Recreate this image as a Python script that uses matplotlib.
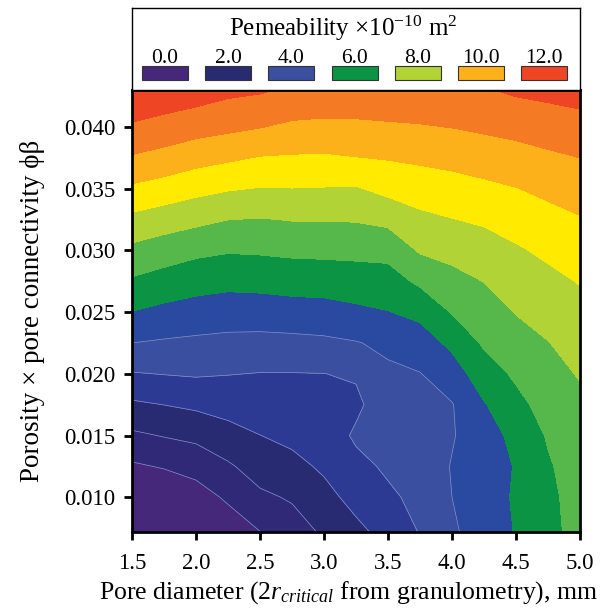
import numpy as np
import matplotlib
matplotlib.use("Agg")
import matplotlib.pyplot as plt
from matplotlib.colors import ListedColormap, BoundaryNorm
from matplotlib.patches import Rectangle

plt.rcParams['font.family'] = ['Liberation Serif', 'DejaVu Serif']
plt.rcParams['mathtext.fontset'] = 'custom'
plt.rcParams['mathtext.rm'] = 'Liberation Serif'
plt.rcParams['mathtext.it'] = 'Liberation Serif:italic'

# ---- data ----
pore_diameter = [1.5, 1.75, 2.0, 2.25, 2.5, 2.75, 3.0, 3.25, 3.5, 3.75, 4.0, 4.25, 4.5, 4.75, 5.0]
porosity_conn = [0.007, 0.010, 0.0125, 0.015, 0.0175, 0.020, 0.0225, 0.025,
                 0.0275, 0.030, 0.0325, 0.035, 0.0375, 0.040, 0.0435]
permeability = [
    [-0.8, -0.9, -0.4, 0.33, 0.93, 1.53, 2.10, 2.75, 3.26, 4.03, 4.85, 5.45, 6.05, 6.75, 7.30],
    [0.05, 0.12, 0.54, 1.16, 1.82, 2.10, 2.73, 3.28, 3.83, 4.25, 5.00, 5.60, 6.10, 6.80, 7.35],
    [0.86, 1.08, 1.37, 1.87, 2.43, 2.74, 3.14, 3.73, 4.15, 4.43, 5.05, 5.60, 6.05, 6.90, 7.45],
    [1.83, 2.05, 2.23, 2.65, 2.99, 3.22, 3.42, 4.15, 4.37, 4.61, 4.93, 5.55, 6.28, 7.09, 7.60],
    [2.84, 3.01, 3.19, 3.37, 3.48, 3.59, 3.71, 3.80, 4.60, 4.79, 4.95, 5.93, 6.72, 7.38, 7.80],
    [3.94, 4.03, 4.10, 4.03, 3.97, 3.97, 3.99, 4.10, 4.83, 4.97, 5.53, 6.53, 7.16, 7.68, 8.07],
    [5.00, 4.89, 4.81, 4.74, 4.71, 4.74, 4.81, 4.95, 5.20, 5.53, 6.22, 7.13, 7.60, 7.97, 8.39],
    [5.97, 5.75, 5.59, 5.49, 5.50, 5.58, 5.63, 5.80, 5.97, 6.24, 7.06, 7.58, 8.04, 8.36, 8.71],
    [6.87, 6.60, 6.38, 6.26, 6.31, 6.40, 6.43, 6.53, 6.59, 7.18, 7.67, 8.02, 8.46, 8.75, 9.05],
    [7.76, 7.49, 7.22, 7.08, 7.12, 7.20, 7.23, 7.25, 7.30, 8.10, 8.31, 8.58, 8.88, 9.19, 9.50],
    [8.75, 8.48, 8.25, 8.01, 7.95, 8.04, 8.04, 8.07, 8.25, 8.77, 8.97, 9.13, 9.40, 9.68, 9.93],
    [9.83, 9.58, 9.29, 9.08, 8.95, 8.98, 8.95, 8.92, 9.28, 9.46, 9.61, 9.78, 9.97, 10.22, 10.46],
    [10.90, 10.66, 10.36, 10.15, 9.94, 9.89, 9.86, 9.97, 10.06, 10.17, 10.29, 10.46, 10.62, 10.82, 11.00],
    [11.85, 11.62, 11.39, 11.22, 11.03, 10.82, 10.79, 10.81, 10.87, 10.93, 11.02, 11.16, 11.30, 11.48, 11.65],
    [13.20, 12.90, 12.70, 12.40, 12.30, 12.00, 11.80, 11.80, 11.85, 11.87, 11.90, 12.05, 12.30, 12.40, 12.50],
]
levels = list(range(0, 14))
band_colors = ['#45287a', '#302978', '#282b72', '#2d3a94', '#3a4f9f', '#2a49a0',
               '#0b9444', '#56b84a', '#b1d335', '#ffea00', '#fcb11a', '#f47b24',
               '#ee4524']
legend_values = ['0.0', '2.0', '4.0', '6.0', '8.0', '10.0', '12.0']
legend_colors = ['#45287a', '#282b72', '#3a4f9f', '#0b9444', '#b1d335', '#fcb11a', '#ee4524']
xticks = [1.5, 2.0, 2.5, 3.0, 3.5, 4.0, 4.5, 5.0]
yticks = [0.010, 0.015, 0.020, 0.025, 0.030, 0.035, 0.040]

# ---- figure ----
W, H = 608, 613
fig = plt.figure(figsize=(W / 100, H / 100), dpi=100)
ax = fig.add_axes([132 / W, (H - 532) / H, 448 / W, 442 / H])

cmap = ListedColormap(band_colors)
cmap.set_under(band_colors[0])
cmap.set_over(band_colors[-1])
norm = BoundaryNorm(levels, cmap.N)
X, Y = np.meshgrid(pore_diameter, porosity_conn)
Z = np.array(permeability)
ax.contourf(X, Y, Z, levels=levels, cmap=cmap, norm=norm, extend='both')
ax.contour(X, Y, Z, levels=[1, 2, 3, 4, 5], colors='#8a94cc', linewidths=0.5)

ax.set_xlim(1.5, 5.0)
ax.set_ylim(0.00718, 0.0430)
ax.set_xticks(xticks)
ax.set_xticklabels([f'{v:.1f}' for v in xticks])
ax.set_yticks(yticks)
ax.set_yticklabels([f'{v:.3f}' for v in yticks])
ax.tick_params(direction='out', length=6, width=2, labelsize=16.5)
ax.tick_params(axis='x', pad=9)
ax.tick_params(axis='y', pad=6)
for s in ax.spines.values():
    s.set_linewidth(2)
fig.text(349 / W, 1 - 579 / H, r'Pore diameter (2$r_{critical}$ from granulometry), mm',
         fontsize=18.5, ha='center', va='top')
ax.set_ylabel('Porosity × pore connectivity ϕβ', fontsize=19.5, labelpad=14)

# ---- legend box ----
lax = fig.add_axes([132 / W, (H - 90) / H, 448 / W, 82 / H])
lax.set_xlim(0, 448)
lax.set_ylim(82, 0)
lax.set_xticks([])
lax.set_yticks([])
for s in lax.spines.values():
    s.set_linewidth(1)
lax.text(211, 28, r'Pemeability $\times$10$^{\mathrm{-10}}$ m$^{2}$', ha='center', va='baseline', fontsize=18)
for i, (lab, col) in enumerate(zip(legend_values, legend_colors)):
    x0 = 10 + i * 63.2
    lax.add_patch(Rectangle((x0, 58), 46, 14, facecolor=col, edgecolor='#333333', linewidth=0.8))
    lax.text(x0 + 23, 55, lab, ha='center', va='baseline', fontsize=15.5)

fig.savefig('out.png', dpi=100)
